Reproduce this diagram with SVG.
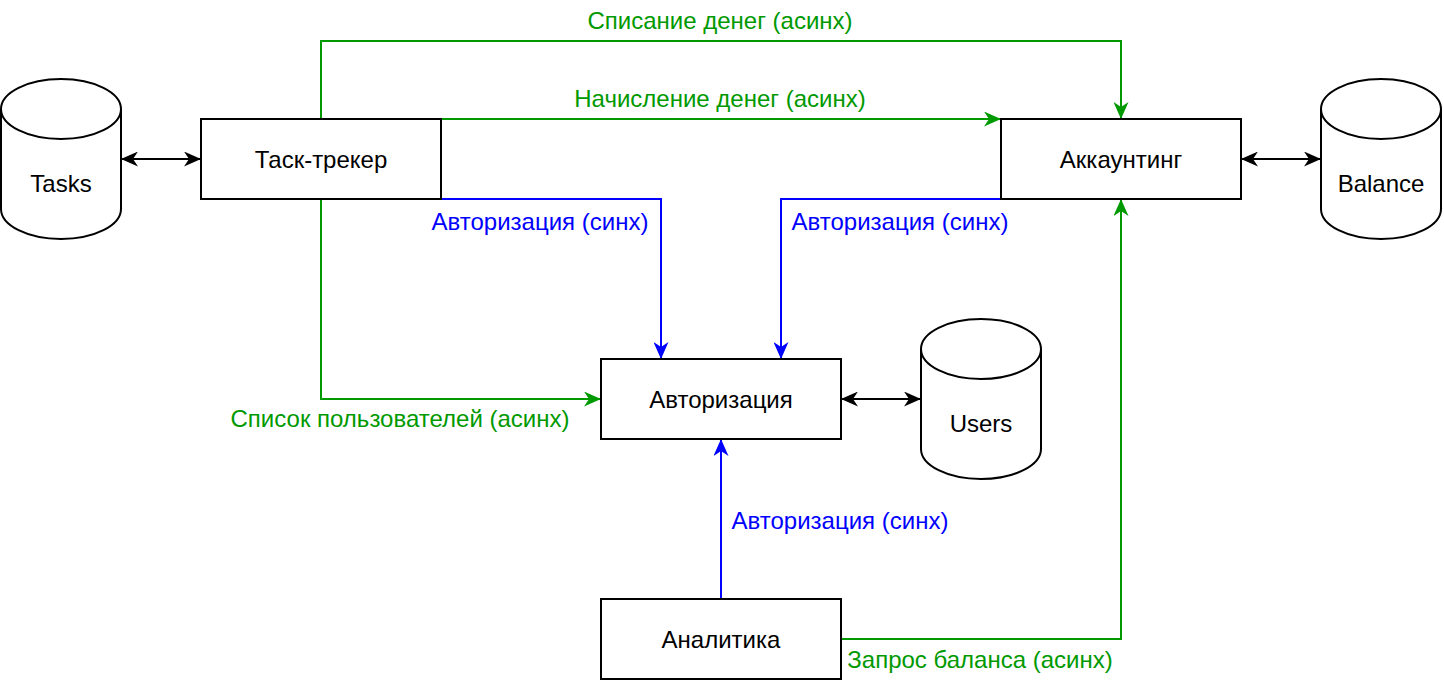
<svg xmlns="http://www.w3.org/2000/svg" width="1444" height="680" viewBox="0 0 1444 680">
<style>
.box{fill:#fff;stroke:#000;stroke-width:2}
.cyl{fill:#fff;stroke:#000;stroke-width:2}
.t{font-family:"Liberation Sans",Arial,sans-serif;font-size:24px;fill:#000;text-anchor:middle;dominant-baseline:central}
.lg{font-family:"Liberation Sans",Arial,sans-serif;font-size:24px;fill:#009900;text-anchor:middle;dominant-baseline:central}
.lb{font-family:"Liberation Sans",Arial,sans-serif;font-size:24px;fill:#0000FF;text-anchor:middle;dominant-baseline:central}
.k{fill:none;stroke:#000;stroke-width:2}
.g{fill:none;stroke:#009900;stroke-width:2}
.b{fill:none;stroke:#0000FF;stroke-width:2}
</style>
<defs>
<marker id="ak" viewBox="0 0 17 15" refX="17" refY="7.5" markerWidth="17" markerHeight="15" markerUnits="userSpaceOnUse" orient="auto-start-reverse"><path d="M0,0 L17,7.5 L0,15 L5,7.5 Z" fill="#000"/></marker>
<marker id="ag" viewBox="0 0 17 15" refX="17" refY="7.5" markerWidth="17" markerHeight="15" markerUnits="userSpaceOnUse" orient="auto"><path d="M0,0 L17,7.5 L0,15 L5,7.5 Z" fill="#009900"/></marker>
<marker id="ab" viewBox="0 0 17 15" refX="17" refY="7.5" markerWidth="17" markerHeight="15" markerUnits="userSpaceOnUse" orient="auto"><path d="M0,0 L17,7.5 L0,15 L5,7.5 Z" fill="#0000FF"/></marker>
</defs>
<rect width="1444" height="680" fill="#fff"/>
<g id="connectors">
<path class="k" d="M121,159 L201,159" marker-start="url(#ak)" marker-end="url(#ak)"/>
<path class="k" d="M1241,159 L1321,159" marker-start="url(#ak)" marker-end="url(#ak)"/>
<path class="k" d="M841,399 L921,399" marker-start="url(#ak)" marker-end="url(#ak)"/>
<path class="g" d="M321,119 L321,41 L1121,41 L1121,119" marker-end="url(#ag)"/>
<path class="g" d="M441,119 L1001,119" marker-end="url(#ag)"/>
<path class="b" d="M441,199 L661,199 L661,359" marker-end="url(#ab)"/>
<path class="b" d="M1001,199 L781,199 L781,359" marker-end="url(#ab)"/>
<path class="g" d="M321,199 L321,399 L601,399" marker-end="url(#ag)"/>
<path class="b" d="M721,599 L721,439" marker-end="url(#ab)"/>
<path class="g" d="M841,639 L1121,639 L1121,199" marker-end="url(#ag)"/>
<text class="lg" x="720" y="20">Списание денег (асинх)</text>
<text class="lg" x="720" y="98">Начисление денег (асинх)</text>
<text class="lb" x="540" y="221">Авторизация (синх)</text>
<text class="lb" x="900" y="221">Авторизация (синх)</text>
<text class="lg" x="400" y="418">Список пользователей (асинх)</text>
<text class="lb" x="840" y="520">Авторизация (синх)</text>
<text class="lg" x="980" y="659">Запрос баланса (асинх)</text>
</g>
<g id="tasks">
<path class="cyl" d="M1,109 A60,30 0 0 1 121,109 L121,209 A60,30 0 0 1 1,209 Z"/>
<path class="cyl" fill="none" d="M1,109 A60,30 0 0 0 121,109"/>
<text class="t" x="61" y="183">Tasks</text>
</g>
<g id="balance">
<path class="cyl" d="M1321,109 A60,30 0 0 1 1441,109 L1441,209 A60,30 0 0 1 1321,209 Z"/>
<path class="cyl" fill="none" d="M1321,109 A60,30 0 0 0 1441,109"/>
<text class="t" x="1381" y="183">Balance</text>
</g>
<g id="users">
<path class="cyl" d="M921,349 A60,30 0 0 1 1041,349 L1041,449 A60,30 0 0 1 921,449 Z"/>
<path class="cyl" fill="none" d="M921,349 A60,30 0 0 0 1041,349"/>
<text class="t" x="981" y="423">Users</text>
</g>
<g id="task-tracker">
<rect class="box" x="201" y="119" width="240" height="80"/>
<text class="t" x="321" y="159">Таск-трекер</text>
</g>
<g id="accounting">
<rect class="box" x="1001" y="119" width="240" height="80"/>
<text class="t" x="1121" y="159">Аккаунтинг</text>
</g>
<g id="auth">
<rect class="box" x="601" y="359" width="240" height="80"/>
<text class="t" x="721" y="399">Авторизация</text>
</g>
<g id="analytics">
<rect class="box" x="601" y="599" width="240" height="80"/>
<text class="t" x="721" y="639">Аналитика</text>
</g>
</svg>
